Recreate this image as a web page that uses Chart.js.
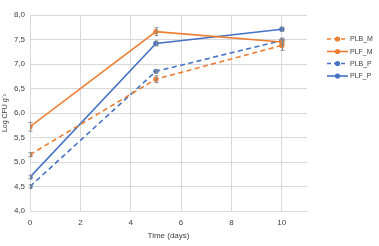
<!DOCTYPE html>
<html>
<head>
<meta charset="utf-8">
<script src="https://cdn.jsdelivr.net/npm/chart.js@4/dist/chart.umd.min.js"></script>
<style>
html,body{margin:0;padding:0;background:#fff;}
#wrap{width:379px;height:246px;position:relative;}
</style>
</head>
<body>
<div id="wrap"><canvas id="c" width="379" height="246"></canvas></div>
<script>
const days = [0, 5, 10];
const seriesNames = ["PLB_M", "PLF_M", "PLB_P", "PLF_P"];
const PLB_M = [5.15, 6.69, 7.38];
const PLF_M = [5.72, 7.66, 7.45];
const PLB_P = [4.50, 6.85, 7.48];
const PLF_P = [4.69, 7.42, 7.71];
const PLB_M_err = [0.04, 0.07, 0.10];
const PLF_M_err = [0.09, 0.08, 0.05];
const PLB_P_err = [0.03, 0.03, 0.05];
const PLF_P_err = [0.03, 0.05, 0.04];
const xTicks = [0, 2, 4, 6, 8, 10];
const yTicks = [4.0, 4.5, 5.0, 5.5, 6.0, 6.5, 7.0, 7.5, 8.0];

const ORANGE = '#ED7D31', BLUE = '#4472C4';
const FONT = "'Liberation Sans', Arial, sans-serif";

function mk(name, vals, errs, color, dashed) {
  return {
    label: name,
    data: days.map((d, i) => ({x: d, y: vals[i]})),
    errs: errs,
    borderColor: color,
    backgroundColor: color,
    borderWidth: 1.6,
    borderDash: dashed ? [5, 3.5] : [],
    pointRadius: 2.6,
    pointBorderWidth: 0,
    pointBackgroundColor: color,
    tension: 0,
    fill: false,
    showLine: true
  };
}

const datasets = [
  mk(seriesNames[0], PLB_M, PLB_M_err, ORANGE, true),
  mk(seriesNames[1], PLF_M, PLF_M_err, ORANGE, false),
  mk(seriesNames[2], PLB_P, PLB_P_err, BLUE, true),
  mk(seriesNames[3], PLF_P, PLF_P_err, BLUE, false)
];

const errorBars = {
  id: 'errorBars',
  afterDatasetsDraw(chart) {
    const ctx = chart.ctx, xs = chart.scales.x, ys = chart.scales.y;
    ctx.save();
    ctx.strokeStyle = '#8c8c8c';
    ctx.lineWidth = 1;
    chart.data.datasets.forEach(ds => {
      ds.data.forEach((p, i) => {
        const e = ds.errs[i];
        const px = Math.round(xs.getPixelForValue(p.x)) + 0.5;
        const y1 = ys.getPixelForValue(p.y + e), y2 = ys.getPixelForValue(p.y - e);
        ctx.beginPath();
        ctx.moveTo(px, y1); ctx.lineTo(px, y2);
        ctx.moveTo(px - 2, y1); ctx.lineTo(px + 2, y1);
        ctx.moveTo(px - 2, y2); ctx.lineTo(px + 2, y2);
        ctx.stroke();
      });
    });
    ctx.restore();
  }
};

const customLegend = {
  id: 'customLegend',
  afterDraw(chart) {
    const ctx = chart.ctx;
    ctx.save();
    const x0 = 327, x1 = 348, ys = [39, 51.5, 63.5, 76];
    chart.data.datasets.forEach((ds, i) => {
      const y = ys[i];
      ctx.strokeStyle = ds.borderColor;
      ctx.lineWidth = 1.6;
      ctx.setLineDash(ds.borderDash.length ? [4, 3] : []);
      ctx.beginPath(); ctx.moveTo(x0, y); ctx.lineTo(x1, y); ctx.stroke();
      ctx.setLineDash([]);
      ctx.fillStyle = ds.borderColor;
      ctx.beginPath(); ctx.arc((x0 + x1) / 2, y, 2.6, 0, Math.PI * 2); ctx.fill();
      ctx.fillStyle = '#404040';
      ctx.font = "7px " + FONT;
      ctx.textBaseline = 'middle';
      ctx.textAlign = 'left';
      ctx.fillText(ds.label, x1 + 2, y + 0.5);
    });
    ctx.restore();
  }
};

new Chart(document.getElementById('c'), {
  type: 'scatter',
  data: { datasets },
  plugins: [errorBars, customLegend],
  options: {
    responsive: false,
    animation: false,
    layout: { padding: { left: 1, right: 72, top: 15, bottom: 5 } },
    plugins: { legend: { display: false }, tooltip: { enabled: false } },
    scales: {
      x: {
        type: 'linear', min: 0, max: 11,
        afterBuildTicks(axis) { axis.ticks = xTicks.map(v => ({value: v})); },
        afterFit(axis) { axis.height = 30; },
        grid: { color: '#d9d9d9', lineWidth: 1, drawTicks: false, tickLength: 0 },
        border: { color: '#d9d9d9' },
        ticks: { color: '#404040', font: { family: FONT, size: 8 }, padding: 7, maxRotation: 0 },
        title: { display: true, text: 'Time (days)', color: '#404040', font: { family: FONT, size: 8 }, padding: { top: 2, bottom: 0 } }
      },
      y: {
        type: 'linear', min: 4, max: 8,
        afterBuildTicks(axis) { axis.ticks = yTicks.map(v => ({value: v})); },
        afterFit(axis) { axis.width = 29; },
        grid: { color: '#d9d9d9', lineWidth: 1, drawTicks: false, tickLength: 0 },
        border: { color: '#d9d9d9' },
        ticks: { color: '#404040', font: { family: FONT, size: 8 }, padding: 5,
                 callback: v => v.toFixed(1).replace('.', ',') },
        title: { display: true, text: 'Log CFU g\u207B\u00B9', color: '#404040', font: { family: FONT, size: 7 }, padding: { top: 0, bottom: 0 } }
      }
    }
  }
});
</script>
</body>
</html>
